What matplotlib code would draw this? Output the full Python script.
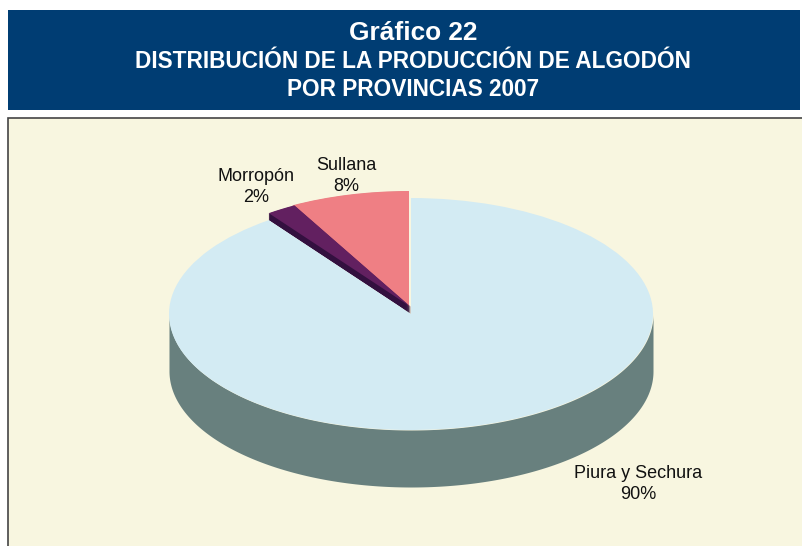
import numpy as np
import matplotlib
matplotlib.use("Agg")
import matplotlib.pyplot as plt
from matplotlib.patches import Rectangle

plt.rcParams['font.family'] = ['Liberation Sans', 'DejaVu Sans']

# Data
categories = ["Piura y Sechura", "Morropón", "Sullana"]
values = [90, 2, 8]
title_lines = ["Gráfico 22", "DISTRIBUCIÓN DE LA PRODUCCIÓN DE ALGODÓN", "POR PROVINCIAS 2007"]

# Style
W, H = 802, 546
CX, CY, RX, RY, DEPTH = 411, 314, 242, 116, 57
top_colors = ["#D3EBF3", "#622060", "#EF7F84"]
side_colors = ["#68807E", "#33103F", "#8A8A7A"]
lift_px = [(0, 0), (0, -7), (-2, -7)]

fig = plt.figure(figsize=(W / 100, H / 100), dpi=100, facecolor="white")

# Pixel-space layer for banner and panel
bg = fig.add_axes([0, 0, 1, 1], zorder=0)
bg.set_xlim(0, W)
bg.set_ylim(H, 0)
bg.axis("off")
bg.add_patch(Rectangle((8, 10), 792, 100, fc="#003D73", ec="none"))
bg.add_patch(Rectangle((8, 118), 810, 450, fc="#F8F6E0", ec="#444444", lw=1.2))

# Pie layer: unit circle maps to the tilted ellipse
ax = fig.add_axes([0, 0, 1, 1], zorder=1)
ax.patch.set_alpha(0)


def sx(px):
    return px / RX


def sy(px):
    return px / RY


def one_slice(index, color, offset, zorder):
    """Draw the whole pie through ax.pie and keep just one of its wedges."""
    wedges, _ = ax.pie(values, colors=[color] * len(values), startangle=90, counterclock=False,
                       center=(sx(offset[0]), -sy(offset[1])), radius=1, frame=False)
    for j, w in enumerate(wedges):
        if j == index:
            w.set_zorder(zorder)
        else:
            w.set_visible(False)


# Lifted slices: stacked sides, then tops (Sullana first, Morropón over it)
z = 1
for i in (2, 1):
    dx, dy = lift_px[i]
    for step in np.arange(0.0, 1.0, 1 / 14):
        one_slice(i, side_colors[i], (dx, dy * step), z)
    one_slice(i, top_colors[i], (dx, dy), z + 1)
    z += 2

# Big slice: front wall and top
t = np.linspace(np.pi, 2 * np.pi, 400)
ax.fill_between(np.cos(t), np.sin(t), np.sin(t) - sy(DEPTH), color=side_colors[0], lw=0, zorder=10)
one_slice(0, top_colors[0], lift_px[0], 11)

ax.set_aspect("auto")
ax.set_xlim(sx(-CX), sx(W - CX))
ax.set_ylim(-sy(H - CY), sy(CY))
ax.axis("off")

# Texts
txt = fig.add_axes([0, 0, 1, 1], zorder=4)
txt.set_xlim(0, W)
txt.set_ylim(H, 0)
txt.axis("off")
txt.text(413, 33, title_lines[0], color="white", fontsize=18.9, fontweight="bold", ha="center", va="center")
txt.text(413, 61.5, title_lines[1], color="white", fontsize=16.3, fontweight="bold", ha="center", va="center")
txt.text(413, 89.5, title_lines[2], color="white", fontsize=16.3, fontweight="bold", ha="center", va="center")
label_pos = [(638, 484), (256, 187), (346, 176)]
for name, v, (x, y) in zip(categories, values, label_pos):
    txt.text(x, y, f"{name}\n{v}%", color="#111111", fontsize=13, ha="center", va="center", linespacing=1.3)

fig.savefig("out.png", dpi=100)
